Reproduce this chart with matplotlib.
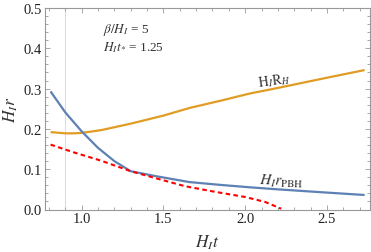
import matplotlib
matplotlib.use("Agg")
import matplotlib.pyplot as plt
from matplotlib.ticker import MultipleLocator
import numpy as np

# Data
t_rpbh = [0.81, 0.9, 1.0, 1.1, 1.2, 1.3, 1.45, 1.66, 1.85, 2.03, 2.2, 2.46, 2.73]
r_pbh = [0.293, 0.241, 0.194, 0.153, 0.120, 0.095, 0.083, 0.068, 0.061, 0.055, 0.050, 0.043, 0.036]

t_rh = [0.81, 0.9, 0.95, 1.0, 1.12, 1.3, 1.5, 1.66, 1.85, 2.03, 2.18, 2.5, 2.73]
r_h = [0.192, 0.189, 0.189, 0.190, 0.197, 0.213, 0.233, 0.252, 0.270, 0.288, 0.300, 0.327, 0.346]

t_red = [0.81, 0.95, 1.12, 1.3, 1.45, 1.63, 1.8, 2.0, 2.12, 2.22]
r_red = [0.161, 0.142, 0.121, 0.095, 0.078, 0.058, 0.045, 0.031, 0.019, 0.002]

t_vline = 0.9
beta_label = r"$\beta/H_I$ = 5"
tstar_label = r"$H_I t_{*}$ = 1.25"

plt.rcParams['font.family'] = ['Liberation Serif', 'DejaVu Serif']
plt.rcParams['mathtext.fontset'] = 'stix'

fig = plt.figure(figsize=(3.71, 2.53), dpi=100)
ax = fig.add_axes([45/371, 1 - 210.5/253, 325/371, 201.5/253])

blue = '#5E81B5'
orange = '#E19C24'

ax.axvline(t_vline, color='#dddddd', lw=0.8, zorder=0)
ax.plot(t_rh, r_h, color=orange, lw=1.6, solid_capstyle='butt')
ax.plot(t_rpbh, r_pbh, color=blue, lw=1.6, solid_capstyle='butt')
ax.plot(t_red, r_red, color='red', lw=1.5, ls=(0, (2.2, 1.6)))

ax.set_xlim(0.776, 2.763)
ax.set_ylim(0.0, 0.5)

ax.xaxis.set_major_locator(MultipleLocator(0.5))
ax.xaxis.set_minor_locator(MultipleLocator(0.1))
ax.yaxis.set_major_locator(MultipleLocator(0.1))
ax.yaxis.set_minor_locator(MultipleLocator(0.02))
ax.xaxis.set_major_formatter(matplotlib.ticker.FormatStrFormatter('%.1f'))
ax.yaxis.set_major_formatter(matplotlib.ticker.FormatStrFormatter('%.1f'))

fc = '#999999'
for s in ax.spines.values():
    s.set_color(fc)
    s.set_linewidth(0.8)
ax.tick_params(which='both', direction='in', top=True, right=True, color=fc,
               width=0.6, labelsize=10.5, labelcolor='#222222', pad=2)
ax.tick_params(which='major', length=3.5)
ax.tick_params(which='minor', length=2)

ax.set_xlabel(r"$H_I t$", fontsize=12.5, labelpad=5, color='#333333')
ax.set_ylabel(r"$H_I r$", fontsize=12.5, labelpad=3, color='#333333')

ax.text(1.13, 0.449, beta_label, fontsize=9.5, color='#333333', va='center', ha='left')
ax.text(1.13, 0.405, tstar_label, fontsize=9.5, color='#333333', va='center', ha='left')

ax.text(2.18, 0.322, r"$\mathrm{H}_I\mathrm{R}_H$", fontsize=10, color='#333333',
        ha='center', va='center', rotation=8)
ax.text(2.22, 0.071, r"$H_I r_{\mathrm{PBH}}$", fontsize=11, color='#333333',
        ha='center', va='center', rotation=-2)

fig.savefig("out.png", dpi=100)
